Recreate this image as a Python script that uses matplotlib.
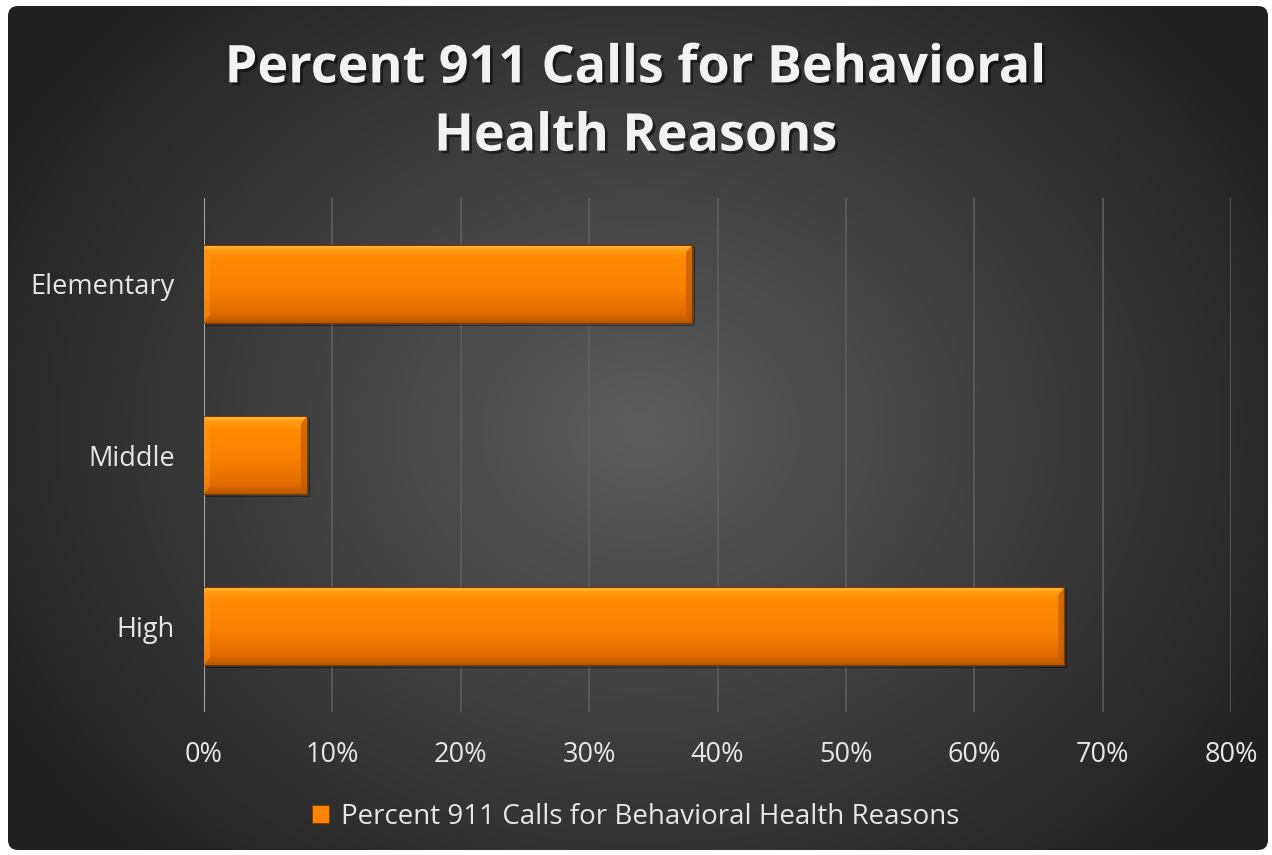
import matplotlib
matplotlib.use("Agg")
import matplotlib.pyplot as plt
import matplotlib.patheffects as pe
import numpy as np
from matplotlib.patches import FancyBboxPatch, Patch

categories = ["High", "Middle", "Elementary"]
values = [67, 8, 38]
ticks = [0, 10, 20, 30, 40, 50, 60, 70, 80]
tick_labels = [f"{t}%" for t in ticks]
title = "Percent 911 Calls for Behavioral Health Reasons"

font = "Open Sans"
txt_color = "#e6e6e6"

fig = plt.figure(figsize=(12.72, 8.55), dpi=100)
fig.patch.set_facecolor("white")

# background panel with radial gradient
bg = fig.add_axes([0, 0, 1, 1])
bg.set_xlim(0, 1272)
bg.set_ylim(855, 0)
bg.axis("off")
yy, xx = np.mgrid[0:855, 0:1272]
r = np.sqrt(((xx - 640) / 760.0) ** 2 + ((yy - 430) / 620.0) ** 2)
shade = np.clip(0.36 - 0.24 * r, 0.13, 0.36)
img = np.dstack([shade, shade, shade])
panel = FancyBboxPatch((8, 6), 1260, 844, boxstyle="round,pad=0,rounding_size=10",
                       facecolor="none", edgecolor="none", transform=bg.transData)
bg.add_patch(panel)
im = bg.imshow(img, extent=(0, 1272, 855, 0), zorder=0)
im.set_clip_path(panel)

ax = fig.add_axes([204 / 1272, 1 - 712 / 855, (1231 - 204) / 1272, (712 - 198) / 855])
ax.patch.set_alpha(0)
ax.set_xlim(0, 80)
ax.set_ylim(-0.5, 2.5)

for s in ax.spines.values():
    s.set_visible(False)
ax.set_xticks(ticks)
ax.set_xticklabels(tick_labels)
ax.set_yticks(range(len(categories)))
ax.set_yticklabels(categories)
ax.tick_params(length=0, colors=txt_color, labelsize=19.5)
ax.tick_params(axis="x", pad=21)
ax.tick_params(axis="y", pad=21)
for lab in ax.get_xticklabels() + ax.get_yticklabels():
    lab.set_fontfamily(font)
ax.grid(axis="x", color="#5e5e5e", linewidth=1.2)
ax.set_axisbelow(True)
ax.axvline(0, color="#a6a6a6", linewidth=1.5, zorder=1)

bar_h = 0.455
bars = ax.barh(range(len(categories)), values, height=bar_h, color="#ff8200",
               edgecolor="#7a3a00", linewidth=0.8, zorder=3,
               path_effects=[pe.SimpleLineShadow(offset=(1.5, -1.5), alpha=0.4), pe.Normal()])

# vertical gradient on each bar, plus bevel edges
grad = np.linspace(0, 1, 256).reshape(-1, 1)
cmap = matplotlib.colors.LinearSegmentedColormap.from_list(
    "bar", [(0.0, "#ffc040"), (0.07, "#ff9a10"), (0.18, "#ff8a00"),
            (0.55, "#f98000"), (0.88, "#e06c00"), (1.0, "#b85600")])
for b in bars:
    x0, y0 = b.get_x(), b.get_y()
    w, h = b.get_width(), b.get_height()
    g = ax.imshow(grad, cmap=cmap, aspect="auto", extent=(x0, x0 + w, y0, y0 + h),
                  origin="upper", zorder=3.5)
    g.set_clip_path(b)
    # right and left bevel faces
    dx = 0.45
    dy = h * 0.1
    ax.fill([x0 + w, x0 + w - dx, x0 + w - dx, x0 + w],
            [y0 + h, y0 + h - dy, y0 + dy, y0], color="#c05a00", alpha=0.7, zorder=3.6, lw=0)
    ax.fill([x0, x0 + dx, x0 + dx, x0],
            [y0 + h, y0 + h - dy, y0 + dy, y0], color="#ff9a20", alpha=0.5, zorder=3.6, lw=0)
    ax.plot([x0, x0 + w], [y0 + h, y0 + h], color="#7a3a00", lw=0.8, zorder=3.7)
    ax.plot([x0 + w, x0 + w], [y0, y0 + h], color="#7a3a00", lw=0.8, zorder=3.7)

ax.set_ylim(-0.5, 2.5)
ax.set_xlim(0, 80)

fig.text(0.5, 1 - 103 / 855, "Percent 911 Calls for Behavioral\nHealth Reasons",
         ha="center", va="center", fontsize=37.5, fontweight="bold", family=font,
         color="#f2f2f2", linespacing=1.38,
         path_effects=[pe.withSimplePatchShadow(offset=(2, -2), shadow_rgbFace="black", alpha=0.5)])

handle = Patch(facecolor="#ff8200", edgecolor="#7a3a00", linewidth=0.6)
leg = fig.legend([handle], [title], loc="center", bbox_to_anchor=(0.5, 1 - 817 / 855),
                 frameon=False, handlelength=0.6, handleheight=0.6,
                 handletextpad=0.45, prop={"family": font, "size": 20})
for t in leg.get_texts():
    t.set_color(txt_color)

fig.savefig("out.png", dpi=100, facecolor="white")
